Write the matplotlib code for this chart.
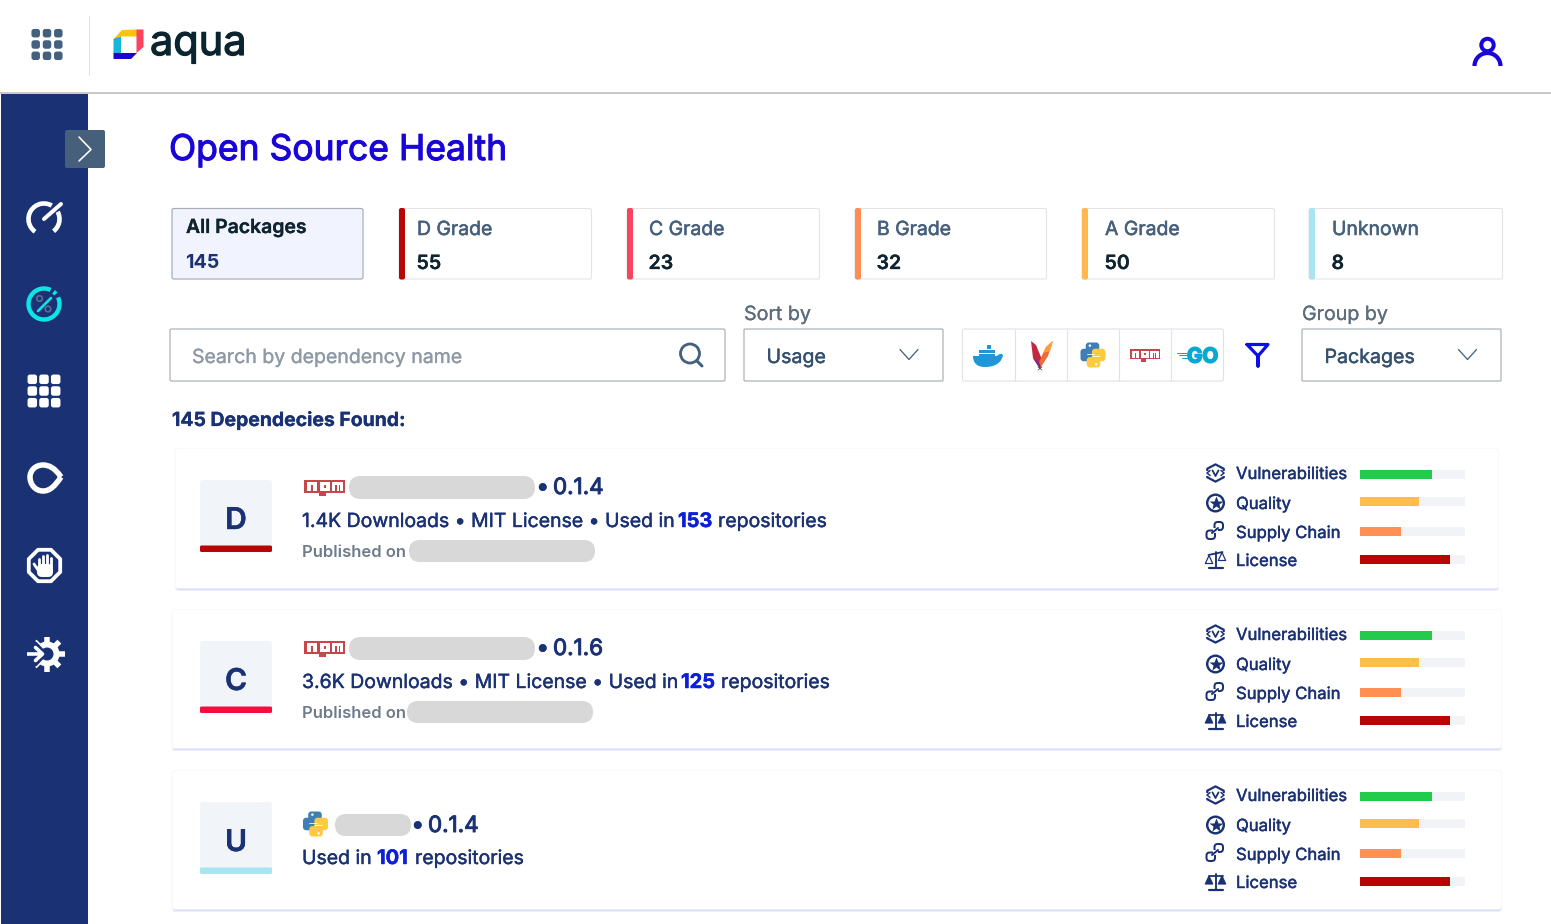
import numpy as np
import matplotlib
matplotlib.use("Agg")
import matplotlib.pyplot as plt
import matplotlib.patheffects as pe
from matplotlib.patches import FancyBboxPatch, Rectangle, Circle, Arc, Polygon, PathPatch
from matplotlib.path import Path

# ---------- data ----------
tab_names = ["All Packages", "D Grade", "C Grade", "B Grade", "A Grade", "Unknown"]
tab_counts = [145, 55, 23, 32, 50, 8]
card_grades = ["D", "C", "U"]
card_versions = ["0.1.4", "0.1.6", "0.1.4"]
card_details = ["1.4K Downloads • MIT License • Used in", "3.6K Downloads • MIT License • Used in", "Used in"]
card_repos = [153, 125, 101]
score_names = ["Vulnerabilities", "Quality", "Supply Chain", "License"]
scores_d = [69, 56, 39, 86]
scores_c = [69, 56, 39, 86]
scores_u = [69, 56, 39, 86]

# ---------- styles / layout ----------
W, H = 1551, 924
NAVY = "#1a3174"
BLUE = "#1a05d8"
LINK = "#0a1fd6"
SLATE = "#44607f"
GRAY = "#6d7b8a"
PILL = "#d8d8d8"
SCORE_COLORS = ["#21cc4c", "#ffbc4f", "#ff8f52", "#b90404"]
TAB_COLORS = [None, "#b80505", "#f8445f", "#ff8c50", "#ffb84d", "#a9e4f0"]
GRADE_COLORS = ["#b80505", "#f40d3f", "#a9e4f0"]
TAB_X = [(172, 363), (399, 592), (627, 820), (855, 1047), (1082, 1275), (1309, 1503)]
TAB_TEXT_X = [186, 417, 649, 877, 1105, 1332]
CARD_BOX = [(176, 449, 1498, 588), (173, 610, 1501, 748), (173, 771, 1501, 909)]

plt.rcParams["font.family"] = ["Inter", "DejaVu Sans"]
fig = plt.figure(figsize=(W / 100, H / 100), dpi=100, facecolor="white")
ax = fig.add_axes([0, 0, 1, 1])
ax.set_xlim(0, W)
ax.set_ylim(H, 0)
ax.axis("off")


def px(v):
    return v * 0.72


def T(x, y, s, size, color=NAVY, weight="normal", ha="left", va="baseline", heavy=0, **kw):
    t = ax.text(x, y, s, fontsize=px(size), color=color, fontweight=weight, ha=ha, va=va, zorder=8, **kw)
    if heavy:
        t.set_path_effects([pe.withStroke(linewidth=heavy, foreground=color)])
    return t


def RR(x0, y0, x1, y1, r=3, fc="white", ec="none", lw=0, z=2):
    p = FancyBboxPatch((x0, y0), x1 - x0, y1 - y0, boxstyle=f"round,pad=0,rounding_size={r}",
                       fc=fc, ec=ec, lw=px(lw), zorder=z)
    ax.add_patch(p)
    return p


def L(xs, ys, color=NAVY, lw=2, z=5, cap="round"):
    ax.plot(xs, ys, color=color, lw=px(lw), zorder=z, solid_capstyle=cap, solid_joinstyle="round")


def C(x, y, r, fc="none", ec="none", lw=0, z=5):
    ax.add_patch(Circle((x, y), r, fc=fc, ec=ec, lw=px(lw), zorder=z))


def A(x, y, r, t1, t2, color, lw, z=5):
    ax.add_patch(Arc((x, y), 2 * r, 2 * r, theta1=t1, theta2=t2, color=color, lw=px(lw), zorder=z))


def dots(cx, cy, step, size, color, r=3):
    for i in (-1, 0, 1):
        for j in (-1, 0, 1):
            x, y = cx + i * step, cy + j * step
            RR(x - size / 2, y - size / 2, x + size / 2, y + size / 2, r=r, fc=color, z=6)


def chevron(cx, cy, color="#44607f"):
    L([cx - 9, cx, cx + 9], [cy - 5, cy + 5, cy - 5], color=color, lw=1.3)


def npm(x, y, w, h, z=6):
    red = "#c8454b"
    ax.add_patch(Rectangle((x, y), w, h * 0.8, fc=red, ec="none", zorder=z))
    ax.add_patch(Rectangle((x + w * 0.36, y + h * 0.7), w * 0.17, h * 0.3, fc=red, ec="none", zorder=z))
    sx = w / 41
    sy = h / 16.5
    top, bot = y + 2.5 * sy, y + 11 * sy
    # white letter bodies: n, p, m
    for a, b in [(2.5, 12.5), (15.5, 25.5), (27.5, 39)]:
        ax.add_patch(Rectangle((x + a * sx, top), (b - a) * sx, bot - top, fc="white", ec="none", zorder=z + 1))
    # red counters inside each letter
    for a, b, ctop, cbot in [(6.5, 8.5, 5.5, 11), (19.5, 21.5, 5.5, 8.2), (31, 33, 5.5, 11), (34.5, 36, 5.5, 11)]:
        ax.add_patch(Rectangle((x + a * sx, y + ctop * sy), (b - a) * sx, (cbot - ctop) * sy, fc=red, ec="none", zorder=z + 2))


def python_logo(cx, cy, s=24, z=6):
    k = s / 24
    for sign, col in ((1, "#3f7fb6"), (-1, "#ffca3f")):
        def xf(a):
            return cx + sign * a * k

        def yf(a):
            return cy + sign * a * k
        xs = sorted([xf(-7), xf(6)])
        ys = sorted([yf(-12), yf(-2)])
        RR(xs[0], ys[0], xs[1], ys[1], r=3 * k, fc=col, z=z)
        xs = sorted([xf(-12), xf(1)])
        ys = sorted([yf(-6), yf(6)])
        RR(xs[0], ys[0], xs[1], ys[1], r=3 * k, fc=col, z=z)
        C(xf(-3), yf(-9), 1.2 * k, fc="white", z=z + 1)
    L([cx - 6 * k, cx + 1 * k], [cy - 1 * k, cy - 1 * k], color="white", lw=0.8, z=z + 1)
    L([cx - 1 * k, cx + 6 * k], [cy + 1 * k, cy + 1 * k], color="white", lw=0.8, z=z + 1)


# ---------- header ----------
ax.add_patch(Rectangle((0, 92), W, 2, fc="#c9c9c9", ec="none", zorder=3))
ax.add_patch(Rectangle((88.5, 16), 1.5, 60, fc="#e2e2e2", ec="none", zorder=3))
dots(47, 44.5, 11.3, 8.5, SLATE, r=2.6)
# logo mark
ax.add_patch(Polygon([(113.5, 39), (122, 30), (137, 29.5), (137, 36.5), (121, 36.5), (121, 42)], fc="#ffc20e", ec="none", zorder=5))
ax.add_patch(Polygon([(136.5, 29.5), (143.5, 29.5), (143.5, 47), (136.5, 53), (136.5, 37)], fc="#f9435f", ec="none", zorder=5))
ax.add_patch(Polygon([(113.5, 39), (121, 36.5), (121, 53), (113.5, 53)], fc="#19b4dc", ec="none", zorder=5))
ax.add_patch(Polygon([(113.5, 53), (137, 53), (131, 59), (113.5, 59)], fc="#1a05d8", ec="none", zorder=5))
T(150, 55, "aqua", 41.5, color="#0b2530", weight="normal", heavy=0.9)
# user icon
C(1487.5, 45, 6.2, ec=BLUE, lw=4)
A(1487.5, 66, 13, 180, 360, BLUE, 4.2)

# ---------- sidebar ----------
ax.add_patch(Rectangle((1, 94), 87, 830, fc=NAVY, ec="none", zorder=1))
RR(65, 130, 105, 168, r=2, fc="#46607c", z=3)
L([79, 91, 79], [137, 149.5, 161], color="white", lw=1.6)
# gauge
A(44, 219, 15.5, 125, 300, "white", 4.6)
A(44, 219, 15.5, 332, 412, "white", 4.6)
L([44, 61], [219, 204], color="white", lw=4)
# percent ring
A(44, 304, 15.5, 335, 655, "#0de5e5", 4.4)
A(44, 304, 15.5, 308, 320, "#0de5e5", 4.4)
L([38, 51], [311, 298], color="#0de5e5", lw=2.6)
C(39.5, 298.5, 2.8, ec="#5b6f92", lw=1.6)
C(48, 309, 2.8, ec="#5b6f92", lw=1.6)
# grid
dots(44, 391, 11.7, 9.5, "white", r=2.4)
# drop
drop = Path([(61, 477), (55, 468), (49, 465), (43, 465), (35, 465), (30, 471), (30, 477),
             (30, 484), (35, 491), (43, 491), (50, 491), (55, 486), (61, 477)],
            [Path.MOVETO] + [Path.CURVE4] * 12)
ax.add_patch(PathPatch(drop, fc="none", ec="white", lw=px(5.5), zorder=5, joinstyle="round"))
# stop hand
oct_t = np.deg2rad(np.arange(22.5, 382.5, 45))
ax.add_patch(Polygon(np.c_[44.5 + 17 * np.cos(oct_t), 565.5 + 17 * np.sin(oct_t)], fc="none", ec="white",
                     lw=px(3.8), zorder=5, joinstyle="round"))
RR(37, 564, 53, 577, r=5, fc="white", z=6)
for fx, top in zip((38.5, 42.5, 46.5, 50.5), (559, 555.5, 555, 558)):
    L([fx, fx], [top, 568], color="white", lw=2.8, z=6)
L([34, 38], [564, 570], color="white", lw=2.8, z=6)
# gear + arrow
teeth = np.deg2rad(np.arange(0, 360, 45))
for t in teeth:
    L([47, 47 + 17.5 * np.cos(t)], [654, 654 + 17.5 * np.sin(t)], color="white", lw=5.5, cap="butt")
C(47, 654, 12.5, fc="white", z=6)
C(47, 654, 6.5, fc=NAVY, z=7)
L([28, 38], [654, 654], color=NAVY, lw=9, z=7, cap="butt")
L([34, 42.5, 34], [645, 654, 663], color=NAVY, lw=8, z=7)
L([27, 41], [654, 654], color="white", lw=3.6, z=8, cap="butt")
L([35.5, 42.5, 35.5], [647.5, 654, 660.5], color="white", lw=3.6, z=8)

# ---------- title ----------
T(169, 160, "Open Source Health", 35.5, color=BLUE, weight="normal", heavy=0.75)

# ---------- tabs ----------
for i, (name, cnt) in enumerate(zip(tab_names, tab_counts)):
    x0, x1 = TAB_X[i]
    if i == 0:
        RR(x0, 208.5, x1, 279, r=2, fc="#f1f4ff", ec="#a4acb8", lw=1.2)
        T(TAB_TEXT_X[i], 233, name, 19.4, color="#0f2330", weight="semibold", heavy=0.2)
        T(TAB_TEXT_X[i] - 1, 268, str(cnt), 19.6, color=NAVY, weight="bold")
    else:
        RR(x0, 208.5, x1 - 0.5, 279, r=2, fc="white", ec="#e2e4e8", lw=1.1)
        RR(x0, 208, x0 + 6, 279.5, r=2, fc=TAB_COLORS[i], z=3)
        T(TAB_TEXT_X[i], 235, name, 19.4, color="#47607c", weight="normal", heavy=0.4)
        T(TAB_TEXT_X[i] - 0.5, 269, str(cnt), 19.6, color="#0f2330", weight="semibold", heavy=0.2)

# ---------- filter row ----------
RR(170, 329, 725, 381, r=1.5, fc="white", ec="#a1a9b0", lw=1.1)
T(192, 363, "Search by dependency name", 19.5, color="#8d99a5", heavy=0.2)
C(690, 353.5, 9.5, ec=SLATE, lw=2.8)
L([697, 702], [361, 366], color=SLATE, lw=3)
T(744, 320, "Sort by", 19.7, color="#5d6d7d", heavy=0.2)
RR(744, 329, 943, 381, r=1, fc="white", ec="#a1a9b0", lw=1.1)
T(766.5, 363, "Usage", 19.6, color="#35506d", heavy=0.3)
chevron(909, 354.5)
T(1302, 320, "Group by", 19.6, color="#5d6d7d", heavy=0.2)
RR(1302, 329, 1501, 381, r=1, fc="white", ec="#a1a9b0", lw=1.1)
T(1324.5, 363, "Packages", 19.6, color="#35506d", heavy=0.3)
chevron(1467.5, 354.5)
RR(962.5, 329, 1223.5, 381, r=2, fc="white", ec="#e0e2e6", lw=1.1)
for vx in (1014.5, 1066.5, 1119, 1171):
    L([vx, vx], [329, 381], color="#e0e2e6", lw=1.1, z=3, cap="butt")
# docker
whale = Path([(973, 356), (996, 356), (998, 356), (1000, 352), (1003, 355), (1001, 366), (990, 367), (985, 367),
              (976, 367), (973, 362), (973, 356)],
             [Path.MOVETO, Path.LINETO, Path.CURVE4, Path.CURVE4, Path.CURVE4, Path.CURVE4, Path.CURVE4,
              Path.CURVE4, Path.CURVE4, Path.CURVE4, Path.CLOSEPOLY])
ax.add_patch(PathPatch(whale, fc="#1f96d8", ec="none", zorder=5))
for bx, by in [(979, 349.5), (983, 349.5), (987, 349.5), (991, 349.5), (987, 345), (979, 353.5), (983, 353.5), (987, 353.5), (991, 353.5)]:
    ax.add_patch(Rectangle((bx, by), 3.6, 3.6, fc="#1f96d8", ec="none", zorder=5))
# feather
ax.add_patch(Polygon([(1031, 341), (1036, 345), (1043, 362), (1040, 369), (1033, 358)], fc="#c2283f", ec="none", zorder=5))
ax.add_patch(Polygon([(1033, 358), (1038.5, 362), (1042, 360), (1040, 369)], fc="#6e2f8e", ec="none", zorder=5))
ax.add_patch(Polygon([(1053, 341), (1046, 347), (1039, 362), (1041, 367), (1048, 356)], fc="#ef6c34", ec="none", zorder=5))
ax.add_patch(Polygon([(1053, 341), (1046, 347), (1043, 353), (1050, 351)], fc="#f9a03a", ec="none", zorder=5))
L([1038, 1042], [367, 370], color="#444444", lw=0.7)
L([1042, 1038], [367, 370], color="#444444", lw=0.7)
python_logo(1093, 355, s=25)
npm(1130, 349, 30, 13)
T(1187, 362.5, "GO", 20.5, color="#05a9d2", weight="bold", heavy=1.2)
for lx0, lx1, ly in [(1177, 1188, 352.5), (1179, 1188, 355), (1182, 1188, 357.5)]:
    L([lx0, lx1], [ly, ly], color="#05a9d2", lw=1.0)
L([1247, 1268, 1258, 1258, 1258, 1247], [344.5, 344.5, 356, 366, 356, 344.5], color="#0c10e6", lw=3.2)

T(172, 426, "145 Dependecies Found:", 19.4, color=NAVY, weight="bold", heavy=0.2)


# ---------- row icons ----------
def icon_vuln(cx, cy):
    ang = np.deg2rad(np.arange(30, 390, 60))
    pts = np.c_[cx + 9.5 * np.cos(ang), cy + 8.6 * np.sin(ang)]
    ax.add_patch(Polygon(pts, fc="none", ec=NAVY, lw=px(2.2), zorder=5, joinstyle="round"))
    ax.add_patch(Rectangle((cx - 11, cy - 2.5), 22, 5, fc="white", ec="none", zorder=5.5))
    L([cx - 3, cx, cx + 3], [cy - 2.6, cy + 3, cy - 2.6], lw=1.8, z=6)
    L([cx - 5.5, cx - 8.5, cx - 5.5], [cy - 2.5, cy, cy + 2.5], lw=1.5, z=6)
    L([cx + 5.5, cx + 8.5, cx + 5.5], [cy - 2.5, cy, cy + 2.5], lw=1.5, z=6)


def icon_star(cx, cy):
    C(cx, cy, 8.3, ec=NAVY, lw=2.4)
    ax.plot([cx], [cy - 0.3], marker="*", ms=px(14), color=NAVY, mec="none", zorder=6)


def icon_chain(cx, cy):
    RR(cx - 0.5, cy - 9, cx + 8, cy - 1, r=3.2, ec=NAVY, fc="none", lw=2, z=5)
    RR(cx - 8.5, cy - 0.5, cx, cy + 8, r=3.2, ec=NAVY, fc="none", lw=2, z=5)
    ax.add_patch(Rectangle((cx - 2, cy - 3), 5, 5, fc="white", ec="none", zorder=5.5))
    L([cx - 3, cx + 3], [cy + 2, cy - 3], lw=2, z=6)


def icon_scale(cx, cy, filled):
    L([cx, cx], [cy - 8, cy + 8], lw=1.9)
    L([cx - 7, cx + 7], [cy + 8, cy + 8], lw=2.2)
    fc = NAVY if filled else "none"
    if filled:
        L([cx - 7, cx + 7], [cy - 6.5, cy - 6.5], lw=1.8)
        tops = ((-6.5, -6), (6.5, -6))
    else:
        L([cx - 7, cx + 7], [cy - 5, cy - 8], lw=1.8)
        tops = ((-6.5, -4.5), (6.5, -7.5))
    for sx, ty in tops:
        ax.add_patch(Polygon([(cx + sx, cy + ty), (cx + sx - 3.7, cy + ty + 8), (cx + sx + 3.7, cy + ty + 8)],
                             fc=fc, ec=NAVY, lw=px(1.2), zorder=5, joinstyle="round"))


LABEL_DY = [30, 60, 89, 117]
ICON_DY = [24, 54, 82, 111]
BAR_DY = [25.5, 52.5, 82.5, 110.5]
ALL_SCORES = [scores_d, scores_c, scores_u]
CARD_TOPS = [449, 610, 771]

# ---------- cards ----------
for i in range(3):
    x0, y0, x1, y1 = CARD_BOX[i]
    top = CARD_TOPS[i]
    RR(x0 - 1, y0 + 3, x1 + 1, y1 + 3, r=3, fc="#eef0fd", z=1.5)
    RR(x0, y0 + 3, x1, y1 + 2, r=3, fc="#d9defa", z=1.6)
    RR(x0 - 1.5, y0 - 1, x1 + 1, y1 + 0.5, r=3, fc="#f9f9f9", z=1.7)
    RR(x0, y0, x1, y1, r=3, fc="white", z=1.8)
    # grade badge
    by = top + 31
    RR(200, by, 272, by + 72, r=3, fc="#f1f4f9", z=2)
    RR(200, by + 65.5, 272, by + 72, r=1.5, fc=GRADE_COLORS[i], z=3)
    T(236, by + 49, card_grades[i], 30, color=NAVY, weight="semibold", ha="center", heavy=0.3)

    if i < 2:
        ry = top + 45
        npm(304, top + 30.5, 41, 16.5)
        RR(349, top + 27, 535, top + 50, r=11.5, fc=PILL, z=3)
        T(536, ry, "•", 24, heavy=0.3)
        T(553, ry, card_versions[i], 22.4, heavy=0.7)
        T(302, top + 78, card_details[i], 19.45, color=NAVY, heavy=0.3)
        rx = 678 if i == 0 else 681
        T(rx, top + 78, str(card_repos[i]), 20, weight="bold", color=LINK, heavy=0.35)
        T(rx + 40, top + 78, "repositories", 19.45, color=NAVY, heavy=0.3)
        T(302, top + 108, "Published on", 16.6, color=GRAY, weight="semibold")
        px0 = 409 if i == 0 else 407
        RR(px0, top + 91, px0 + 186, top + 113, r=11, fc=PILL, z=3)
    else:
        python_logo(315.5, top + 53, s=25)
        RR(335, top + 43, 411, top + 65, r=11, fc=PILL, z=3)
        T(411, top + 61, "•", 24, heavy=0.3)
        T(428, top + 61, card_versions[i], 22.4, heavy=0.7)
        T(302, top + 93, card_details[i], 19.45, color=NAVY, heavy=0.3)
        T(377, top + 93, str(card_repos[i]), 20, weight="bold", color=LINK, heavy=0.35)
        T(415, top + 93, "repositories", 19.45, color=NAVY, heavy=0.3)

    # score rows
    for j, name in enumerate(score_names):
        T(1236, top + LABEL_DY[j], name, 16.7, color=NAVY, heavy=0.3)
    icon_vuln(1215.5, top + ICON_DY[0])
    icon_star(1215.5, top + ICON_DY[1])
    icon_chain(1215, top + ICON_DY[2])
    icon_scale(1215.5, top + ICON_DY[3], filled=i > 0)

    bx = fig.add_axes([1360 / W, 1 - (top + 125) / H, 105 / W, 115 / H])
    bx.set_xlim(0, 100)
    bx.set_ylim(125, 10)
    bx.axis("off")
    bx.patch.set_alpha(0)
    bx.barh(BAR_DY, [100] * 4, height=9, color="#f1f3f7", zorder=1)
    bx.barh(BAR_DY, ALL_SCORES[i], height=9, color=SCORE_COLORS, zorder=2)

fig.savefig("out.png", dpi=100)
